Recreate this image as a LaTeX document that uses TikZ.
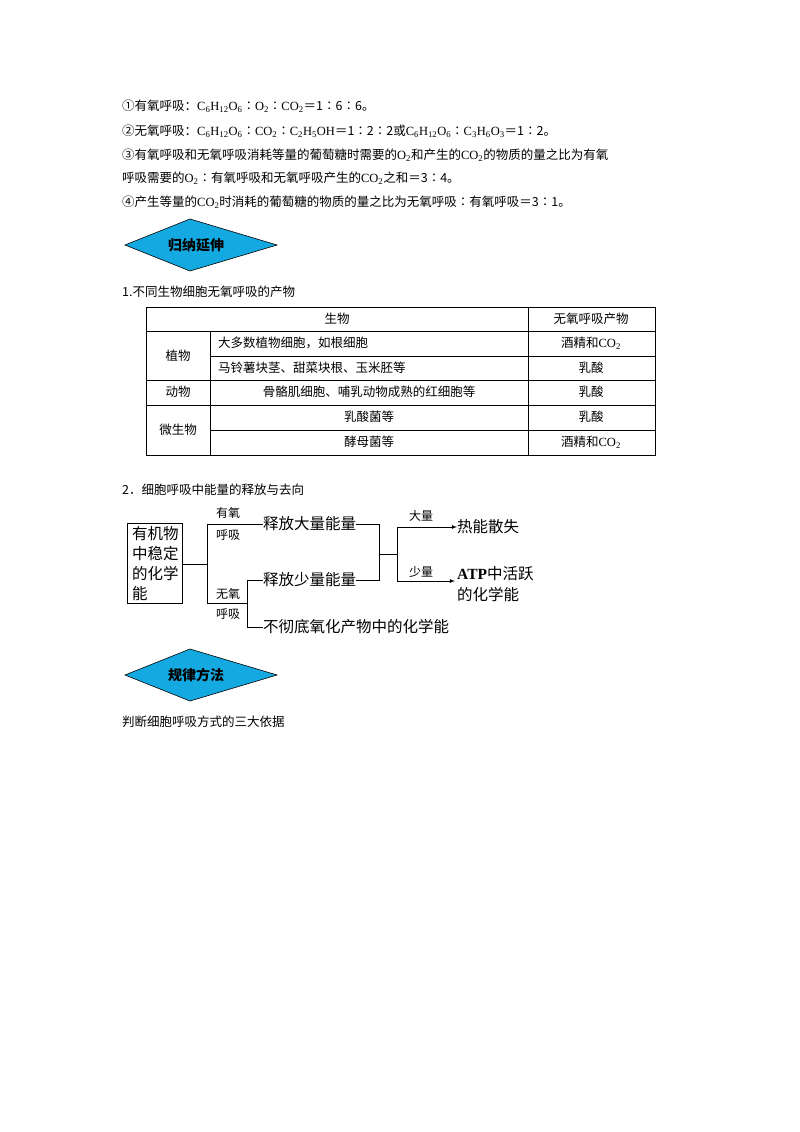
\documentclass[tikz,border=0pt]{standalone}
\usepackage{fontspec}
\setmainfont{Noto Sans CJK SC}
\newfontfamily\lat{Liberation Serif}
\newcommand\subs[1]{\textsubscript{#1}}
\newcommand\glu{{\lat C\subs{6}H\subs{12}O\subs{6}}}
\newcommand\cdio{{\lat CO\subs{2}}}
\newcommand\oxy{{\lat O\subs{2}}}
\begin{document}
\begin{tikzpicture}[x=1pt,y=-1pt,
  txt/.style={anchor=west,inner sep=0pt,font=\fontsize{12.5}{14}\selectfont},
  cell/.style={inner sep=0pt,font=\fontsize{12.5}{14}\selectfont},
  big/.style={anchor=west,inner sep=0pt,font=\fontsize{15.5}{18}\selectfont},
  lab/.style={inner sep=0pt,font=\fontsize{12}{14}\selectfont},
  ln/.style={line width=0.8pt},
  dia/.style={draw=black,line width=0.6pt,fill={rgb,255:red,20;green,170;blue,225}}]
\useasboundingbox (0,0) rectangle (800,1132);
\fill[white] (0,0) rectangle (800,1132);
\node[txt] (l1) at (122,106) {①有氧呼吸：\glu∶\oxy∶\cdio＝1∶6∶6。};
\node[txt] (l2) at (122,131) {②无氧呼吸：\glu∶\cdio∶{\lat C\subs{2}H\subs{5}OH}＝1∶2∶2或\glu∶{\lat C\subs{3}H\subs{6}O\subs{3}}＝1∶2。};
\node[txt] (l3) at (122,155) {③有氧呼吸和无氧呼吸消耗等量的葡萄糖时需要的\oxy 和产生的\cdio 的物质的量之比为有氧};
\node[txt] (l3b) at (122,178) {呼吸需要的\oxy∶有氧呼吸和无氧呼吸产生的\cdio 之和＝3∶4。};
\node[txt] (l4) at (122,202) {④产生等量的\cdio 时消耗的葡萄糖的物质的量之比为无氧呼吸∶有氧呼吸＝3∶1。};
% diamond 1
\draw[dia] (125,245) -- (190,219) -- (277,245) -- (190,271) -- cycle;
\node[inner sep=0pt,font=\bfseries\fontsize{14}{16}\selectfont] (d1) at (196,245) {归纳延伸};
\node[txt] (t1) at (122,292) {1.不同生物细胞无氧呼吸的产物};
% table
\draw[line width=0.6pt] (146,307) rectangle (655,455);
\draw[line width=0.6pt] (146,331) -- (655,331) (146,380) -- (655,380) (146,405) -- (655,405)
  (210,356) -- (655,356) (210,430) -- (655,430)
  (528,307) -- (528,455) (210,331) -- (210,455);
\node[cell] (h1) at (337,319) {生物};
\node[cell] (h2) at (591,319) {无氧呼吸产物};
\node[cell] (p) at (178,356) {植物};
\node[cell,anchor=west] (p1) at (218,343) {大多数植物细胞，如根细胞};
\node[cell,anchor=west] (p2) at (218,368) {马铃薯块茎、甜菜块根、玉米胚等};
\node[cell] (a) at (178,392) {动物};
\node[cell] (a1) at (369,392) {骨骼肌细胞、哺乳动物成熟的红细胞等};
\node[cell] (m) at (178,430) {微生物};
\node[cell] (m1) at (369,417) {乳酸菌等};
\node[cell] (m2) at (369,442) {酵母菌等};
\node[cell] (r1) at (591,343) {酒精和\cdio};
\node[cell] (r2) at (591,368) {乳酸};
\node[cell] (r3) at (591,392) {乳酸};
\node[cell] (r4) at (591,417) {乳酸};
\node[cell] (r5) at (591,442) {酒精和\cdio};
\node[txt] (t2) at (122,490) {2．细胞呼吸中能量的释放与去向};
% flow
\node[draw,line width=0.8pt,minimum width=55pt,minimum height=80pt,anchor=north west,inner sep=0pt] (box) at (127,523) {};
\node[inner sep=0pt,align=left,anchor=north west,font=\fontsize{15.5}{20}\selectfont] (boxt) at (132,526) {有机物\\中稳定\\的化学\\能};
\coordinate (j1) at (207,564);
\draw[ln] (box.east |- j1) -- (j1);
\draw[ln] (207,524) -- (207,603);
\node[big] (e1) at (263,524) {释放大量能量};
\node[big] (e2) at (263,580) {释放少量能量};
\node[big] (e3) at (263,627) {不彻底氧化产物中的化学能};
\draw[ln] (207,524) -- (e1.west);
\draw[ln] (207,603) -- (247,603);
\draw[ln] (247,580) -- (247,627);
\draw[ln] (247,580) -- (e2.west);
\draw[ln] (247,627) -- (e3.west);
\node[lab] (y1) at (228,513) {有氧};
\node[lab] (y2) at (228,535) {呼吸};
\node[lab] (w1) at (228,594) {无氧};
\node[lab] (w2) at (228,614) {呼吸};
\draw[ln] (e1.east) -- (379,524) -- (379,580) -- (e2.east);
\draw[ln] (379,554) -- (397,554);
\draw[ln] (397,527) -- (397,581);
\node[big] (o1) at (457,527) {热能散失};
\node[inner sep=0pt,align=left,anchor=north west,font=\fontsize{15.5}{21}\selectfont] (o2) at (457,566) {{\lat\bfseries ATP}中活跃\\的化学能};
\draw[ln,-latex] (397,527) -- (o1.west);
\draw[ln,-latex] (397,581) -- (455,581);
\node[lab] (s1) at (421,516) {大量};
\node[lab] (s2) at (421,572) {少量};
% diamond 2
\draw[dia] (125,675) -- (190,649) -- (277,675) -- (190,701) -- cycle;
\node[inner sep=0pt,font=\bfseries\fontsize{14}{16}\selectfont] (d2) at (196,675) {规律方法};
\node[txt] (t3) at (122,722) {判断细胞呼吸方式的三大依据};
\end{tikzpicture}
\end{document}
